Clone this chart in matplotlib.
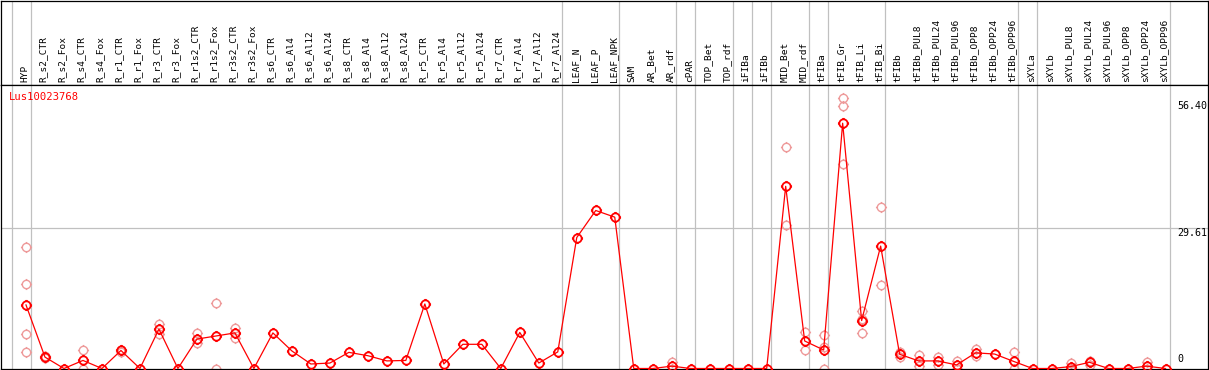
import numpy as np
import matplotlib
matplotlib.use('Agg')  # no display
import matplotlib.pyplot as plt
from matplotlib.path import Path

gene = 'Lus10023768'

samples = ['HYP', 'R_s2_CTR', 'R_s2_Fox', 'R_s4_CTR', 'R_s4_Fox', 'R_r1_CTR', 'R_r1_Fox',
           'R_r3_CTR', 'R_r3_Fox', 'R_r1s2_CTR', 'R_r1s2_Fox', 'R_r3s2_CTR', 'R_r3s2_Fox',
           'R_s6_CTR', 'R_s6_Al4', 'R_s6_Al12', 'R_s6_Al24', 'R_s8_CTR', 'R_s8_Al4', 'R_s8_Al12',
           'R_s8_Al24', 'R_r5_CTR', 'R_r5_Al4', 'R_r5_Al12', 'R_r5_Al24', 'R_r7_CTR', 'R_r7_Al4',
           'R_r7_Al12', 'R_r7_Al24', 'LEAF_N', 'LEAF_P', 'LEAF_NPK', 'SAM', 'AR_Bet', 'AR_rdf',
           'cPAR', 'TOP_Bet', 'TOP_rdf', 'iFIBa', 'iFIBb', 'MID_Bet', 'MID_rdf', 'tFIBa',
           'tFIB_Gr', 'tFIB_Li', 'tFIB_Bi', 'tFIBb', 'tFIBb_PUL8', 'tFIBb_PUL24', 'tFIBb_PUL96',
           'tFIBb_OPP8', 'tFIBb_OPP24', 'tFIBb_OPP96', 'sXYLa', 'sXYLb', 'sXYLb_PUL8',
           'sXYLb_PUL24', 'sXYLb_PUL96', 'sXYLb_OPP8', 'sXYLb_OPP24', 'sXYLb_OPP96']

# mean expression per sample
means = [13.4, 2.4, 0, 1.7, 0, 3.8, 0, 8.3, 0, 6.2, 6.85, 7.5, 0, 7.5, 3.7, 0.95, 1.15,
         3.4, 2.7, 1.6, 1.7, 13.6, 0.95, 5.1, 5.1, 0, 7.6, 1.15, 3.5, 27.6, 33.3, 31.9,
         0, 0, 0.5, 0, 0, 0, 0, 0, 38.4, 5.8, 3.9, 51.7, 10.1, 25.8, 3.0, 1.6, 1.6, 0.75,
         3.3, 3.05, 1.5, 0, 0, 0.4, 1.3, 0, 0, 0.5, 0]

# replicate values (sample index -> values)
replicates = {0: [25.6, 17.8, 7.3, 3.4], 1: [2.6, 2.2], 3: [3.8, 0], 5: [3.9, 3.5],
              7: [9.4, 7.3], 9: [7.4, 5.3], 10: [13.7, 0], 11: [8.6, 6.5], 34: [1.4, 0],
              40: [46.6, 30.2], 41: [7.6, 3.8], 42: [7.0, 4.6, 0], 43: [57.1, 55.3, 43.0],
              44: [12.2, 7.5, 10.5], 45: [34.0, 17.7], 46: [3.5, 2.5], 47: [2.8, 0.5],
              48: [2.5, 0.7], 49: [1.65, 0], 50: [4.2, 2.6], 52: [3.4, 0], 55: [1.1, 0],
              56: [1.65, 0.75], 59: [1.3, 0]}

# last sample of each group (separator drawn after it)
group_ends = [-1, 0, 28, 31, 34, 35, 37, 38, 39, 41, 42, 45, 52, 53, 60]

ref_values = [56.40, 29.61, 0]
ref_labels = ['56.40', '29.61', '0']

W, H = 1209, 370
RED = '#ff0000'
PINK = '#ee9a9a'
GRID = '#c0c0c0'
mono = 'DejaVu Sans Mono'

# circle marker with small ticks (polygon circle, no bezier)
t = np.linspace(0, 2 * np.pi, 41)
circ = Path(np.column_stack([0.75 * np.cos(t), 0.75 * np.sin(t)]))
ticks = [Path([(dx * 0.75, dy * 0.75), (dx, dy)], [Path.MOVETO, Path.LINETO])
         for dx, dy in [(1, 0), (-1, 0), (0, 1), (0, -1)]]
ring = Path.make_compound_path(circ, *ticks)

x = np.arange(len(samples))
xlim = (-25 / 19, 1182 / 19)

fig = plt.figure(figsize=(W / 100, H / 100), dpi=100)
head = fig.add_axes([1 / W, (H - 85) / H, 1206.5 / W, 84.5 / H])
ax = fig.add_axes([1 / W, 1 / H, 1206.5 / W, 284 / H])

for a in (head, ax):
    a.set_xlim(xlim)
    a.set_xticks([])
    a.set_yticks([])
    for s in a.spines.values():
        s.set_color('black')
        s.set_linewidth(0.9)
    for g in group_ends:
        a.axvline(g + 0.247, color=GRID, lw=0.9, zorder=0)

# header labels
head.set_ylim(0, 1)
for i, name in enumerate(samples):
    head.text(i - 0.08, 0.03, name, rotation=90, ha='center', va='bottom',
              fontsize=6.8, family=mono, color='black')

# expression panel
ax.set_ylim(-0.105, 59.75)
ax.axhline(ref_values[1], color=GRID, lw=0.9, zorder=0)

for i, vals in replicates.items():
    ax.plot([i] * len(vals), vals, linestyle='none', marker=ring, ms=8.0,
            mec=PINK, mfc='none', mew=1.0, zorder=2)

ax.plot(x, means, color=RED, lw=0.9, marker=ring, ms=8.0, mec=RED, mfc='none',
        mew=1.3, zorder=3)

ax.text(8 / 1207, 1 - 12 / 284, gene, transform=ax.transAxes, color=RED,
        fontsize=7.6, family=mono, ha='left', va='center')

for v, lab in zip(ref_values, ref_labels):
    if v == 0:
        ax.text(60.63, 0.9, lab, fontsize=7.2, family=mono, ha='left', va='bottom')
    else:
        ax.text(60.63, v, lab, fontsize=7.2, family=mono, ha='left', va='top')

fig.savefig('out.png', dpi=100)
